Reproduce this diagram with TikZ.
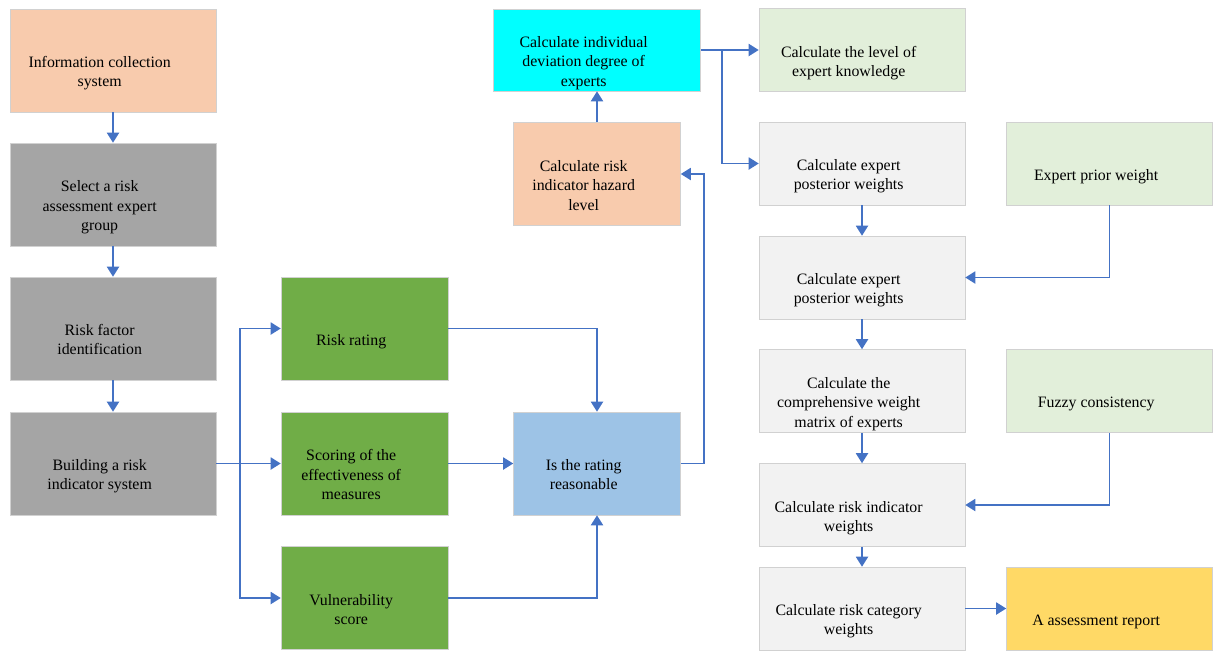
\documentclass[tikz,border=0pt]{standalone}
\usepackage{fontspec}
\setmainfont{Liberation Serif}
\usetikzlibrary{arrows.meta}

\definecolor{peach}{HTML}{F8CBAD}
\definecolor{midgray}{HTML}{A5A5A5}
\definecolor{leafgreen}{HTML}{70AD47}
\definecolor{skyblue}{HTML}{9DC3E6}
\definecolor{paleblue}{HTML}{00FFFF}
\definecolor{palegreen}{HTML}{E2EFDA}
\definecolor{lightgray}{HTML}{F2F2F2}
\definecolor{sunyellow}{HTML}{FFD966}
\definecolor{linkblue}{HTML}{4472C4}

% box text sits a bit left of and below the box centre
\newcommand{\boxtext}[1]{\raisebox{-12.7pt}[0pt][0pt]{\makebox[0pt]{%
  \begin{tabular}{@{}c@{}}#1\end{tabular}\hspace{20pt}}}}

\begin{document}
\begin{tikzpicture}[
  x=0.75pt, y=-0.75pt,
  box/.style = {draw=black!18, fill=#1, inner sep=0pt,
    minimum width=154.5pt, minimum height=77.25pt,
    font=\fontsize{11.9}{14.5}\selectfont},
  greenbox/.style = {box=leafgreen, minimum width=125.25pt},
  flatbox/.style = {box=#1, minimum height=62.25pt},
  arr/.style = {draw=linkblue, line width=1.4pt, -{Triangle[length=7.5pt,width=9pt]}}
  ]
  \useasboundingbox (0,0) rectangle (1218,651);
  % left column
  \node[box=peach]   (info)   at (113,60.5)  {\boxtext{Information collection\\system}};
  \node[box=midgray] (select) at (113,194.5) {\boxtext{Select a risk\\assessment expert\\group}};
  \node[box=midgray] (factor) at (113,328.5) {\boxtext{Risk factor\\identification}};
  \node[box=midgray] (build)  at (113,463.5) {\boxtext{Building a risk\\indicator system}};
  % scores
  \node[greenbox] (rating)  at (364.5,328.5) {\boxtext{Risk rating}};
  \node[greenbox] (scoring) at (364.5,463.5) {\boxtext{Scoring of the\\effectiveness of\\measures}};
  \node[greenbox] (vuln)    at (364.5,598)   {\boxtext{Vulnerability\\score}};
  \node[greenbox, fill=skyblue] (reason) at (597,463.5) {\boxtext{Is the rating\\reasonable}};
  \node[greenbox, fill=peach]   (hazard) at (597,174)   {\boxtext{Calculate risk\\indicator hazard\\level}};
  \node[flatbox=paleblue, minimum width=155.25pt, minimum height=61.5pt] (deviate) at (597,50) {\boxtext{Calculate individual\\deviation degree of\\experts}};
  % right part
  \node[flatbox=palegreen]  (know)   at (862,50)     {\boxtext{Calculate the level of\\expert knowledge}};
  \node[flatbox=lightgray]  (post1)  at (862,163.5)  {\boxtext{Calculate expert\\posterior weights}};
  \node[flatbox=palegreen]  (prior)  at (1109.5,163.5) {\boxtext{Expert prior weight}};
  \node[flatbox=lightgray]  (post2)  at (862,277.5)  {\boxtext{Calculate expert\\posterior weights}};
  \node[flatbox=lightgray]  (matrix) at (862,391)    {\boxtext{Calculate the\\comprehensive weight\\matrix of experts}};
  \node[flatbox=palegreen]  (fuzzy)  at (1109.5,391) {\boxtext{Fuzzy consistency}};
  \node[flatbox=lightgray]  (indw)   at (862,505)    {\boxtext{Calculate risk indicator\\weights}};
  \node[flatbox=lightgray]  (catw)   at (862,608.5)  {\boxtext{Calculate risk category\\weights}};
  \node[flatbox=sunyellow]  (report) at (1109.5,608.5) {\boxtext{A assessment report}};
  % connectors
  \coordinate (split) at (240,463.5);
  \coordinate (fork)  at (722,50);
  \draw[arr] (info) -- (select);
  \draw[arr] (select) -- (factor);
  \draw[arr] (factor) -- (build);
  \draw[arr] (build) -- (scoring);
  \draw[arr] (split) |- (rating);
  \draw[arr] (split) |- (vuln);
  \draw[arr] (rating) -| (reason);
  \draw[arr] (scoring) -- (reason);
  \draw[arr] (vuln) -| (reason);
  \draw[arr] (reason.east) -- ++(23,0) |- (hazard.east);
  \draw[arr] (hazard) -- (deviate);
  \draw[arr] (deviate) -- (know);
  \draw[arr] (fork) |- (post1);
  \draw[arr] (post1) -- (post2);
  \draw[arr] (prior) |- (post2);
  \draw[arr] (post2) -- (matrix);
  \draw[arr] (matrix) -- (indw);
  \draw[arr] (fuzzy) |- (indw);
  \draw[arr] (indw) -- (catw);
  \draw[arr] (catw) -- (report);
\end{tikzpicture}
\end{document}
